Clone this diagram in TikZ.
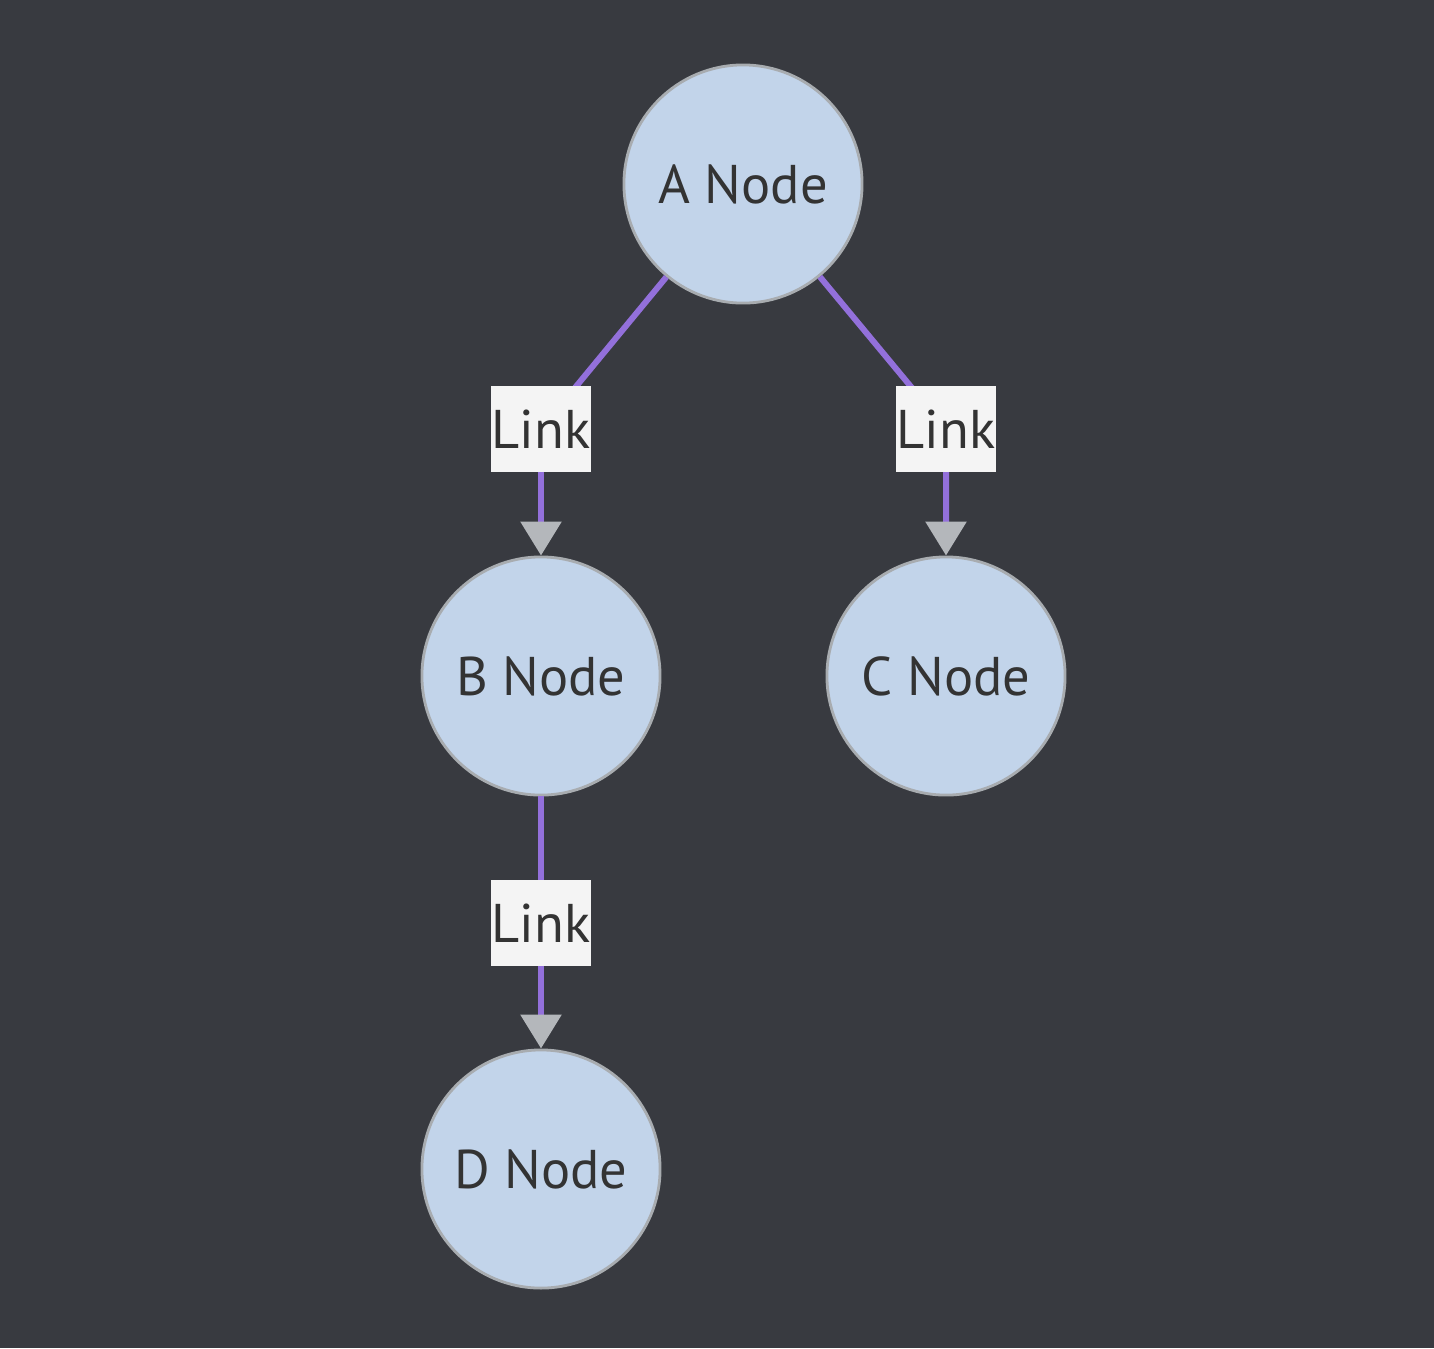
\documentclass[tikz,border=0pt]{standalone}
\usepackage{fontspec}
\setmainfont{PT Sans}
\usetikzlibrary{arrows.meta}
\definecolor{bg}{HTML}{383A40}
\definecolor{nodefill}{HTML}{C2D4EA}
\definecolor{nodestroke}{HTML}{A8ACB0}
\definecolor{edgecol}{HTML}{9370DB}
\definecolor{tipcol}{HTML}{B4B7BB}
\definecolor{labelfill}{HTML}{F4F4F4}
\definecolor{txt}{HTML}{333333}
\tikzset{
  circnode/.style={circle, draw=nodestroke, line width=0.8pt, fill=nodefill, minimum size=2.38cm, inner sep=0pt, text=txt, font=\fontsize{15.5}{18}\selectfont},
  linkbox/.style={rectangle, fill=labelfill, minimum width=1cm, minimum height=0.86cm, inner sep=0pt, text=txt, font=\fontsize{15.5}{18}\selectfont},
  edge/.style={draw=edgecol, line width=1.7pt, -{Triangle[width=0.4cm, length=0.34cm, color=tipcol, fill=tipcol]}}
}
\begin{document}
\begin{tikzpicture}[x=0.01cm, y=-0.01cm]
\fill[bg] (0,0) rectangle (1434,1348);
\useasboundingbox (0,0) rectangle (1434,1348);
\node[circnode] (A) at (743,184) {A Node};
\node[circnode] (B) at (541,676) {B Node};
\node[circnode] (C) at (946,676) {C Node};
\node[circnode] (D) at (541,1169) {D Node};
\coordinate (lab) at (541,429);
\coordinate (lac) at (946,429);
\coordinate (lbd) at (541,923);
\draw[edge] (A) -- (lab) -- (B);
\draw[edge] (A) -- (lac) -- (C);
\draw[edge] (B) -- (lbd) -- (D);
\node[linkbox] (L1) at (lab) {Link};
\node[linkbox] (L2) at (lac) {Link};
\node[linkbox] (L3) at (lbd) {Link};
\end{tikzpicture}
\end{document}
